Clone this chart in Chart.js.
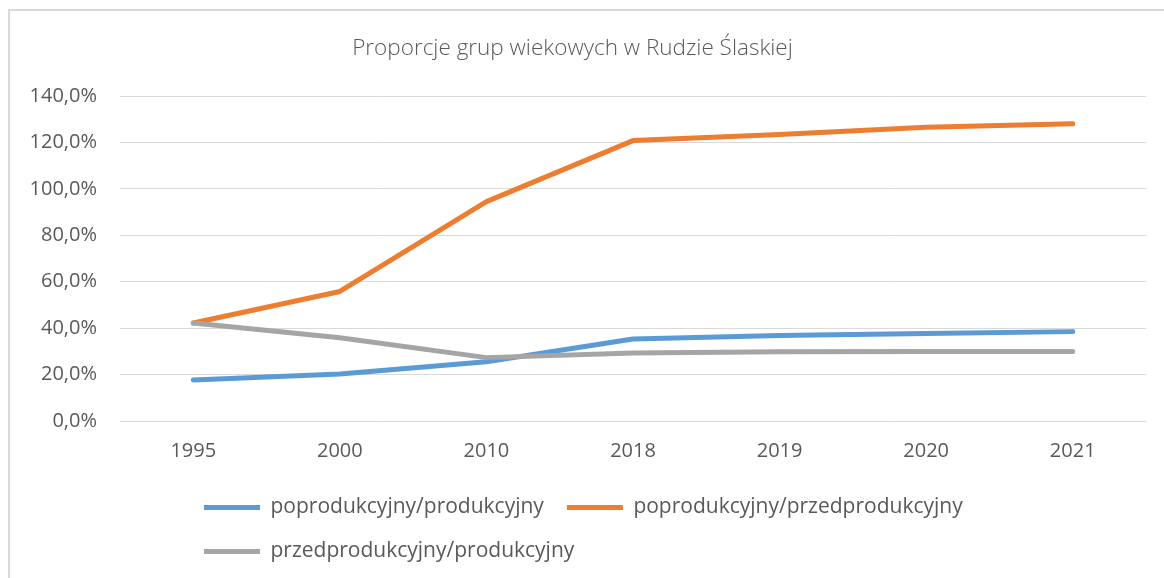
<!DOCTYPE html>
<html lang="pl">
<head>
<meta charset="utf-8">
<title>Proporcje grup wiekowych w Rudzie Ślaskiej</title>
<script src="https://cdn.jsdelivr.net/npm/chart.js@4/dist/chart.umd.min.js"></script>
<style>
    html, body { margin: 0; padding: 0; background: #ffffff; overflow: hidden; }
    #ramka {
        position: absolute; left: 8px; top: 9px;
        width: 1200px; height: 620px;
        border: 2px solid #d9d9d9;
    }
    #wykres { position: absolute; left: 0; top: 0; }
</style>
</head>
<body>
<div id="ramka"></div>
<canvas id="wykres" width="1164" height="592"></canvas>
<script>
// dane (w %)
const lata = ['1995', '2000', '2010', '2018', '2019', '2020', '2021'];
const poprodukcyjnyProdukcyjny = [17.7, 20.2, 25.5, 35.3, 36.8, 37.7, 38.5];
const poprodukcyjnyPrzedprodukcyjny = [42.2, 55.8, 94.5, 120.8, 123.4, 126.5, 128.0];
const przedprodukcyjnyProdukcyjny = [42.2, 35.9, 27.3, 29.3, 29.8, 29.9, 29.9];

const nazwySerii = ['poprodukcyjny/produkcyjny', 'poprodukcyjny/przedprodukcyjny', 'przedprodukcyjny/produkcyjny'];
const kolory = ['#5b9bd5', '#ed7d31', '#a5a5a5'];

const czcionka = '"Open Sans", "Noto Sans", sans-serif';
const szary = '#595959';

function formatProcent(v) {
    return v.toFixed(1).replace('.', ',') + '%';
}

// legenda w Excelu jest wyrównana do lewej (od x ~ 204), tytuł lekko w lewo
const przesunBloki = {
    id: 'przesunBloki',
    afterLayout(chart) {
        const l = chart.legend;
        const w = l.right - l.left;
        l.left = 181;
        l.right = l.left + w;
        l.top -= 7;
        l.bottom -= 7;

        const t = chart.titleBlock;
        t.left -= 5;
        t.right -= 5;
    }
};

function seria(i, dane) {
    return {
        label: nazwySerii[i],
        data: dane,
        borderColor: kolory[i],
        backgroundColor: kolory[i],
        borderWidth: 5,
        borderCapStyle: 'round',
        borderJoinStyle: 'round',
        pointRadius: 0,
        tension: 0,
        order: 3 - i
    };
}

const ctx = document.getElementById('wykres').getContext('2d');
new Chart(ctx, {
    type: 'line',
    data: {
        labels: lata,
        datasets: [
            seria(0, poprodukcyjnyProdukcyjny),
            seria(1, poprodukcyjnyPrzedprodukcyjny),
            seria(2, przedprodukcyjnyProdukcyjny)
        ]
    },
    options: {
        responsive: false,
        animation: false,
        layout: { padding: { left: 9, right: 18, top: 9, bottom: 13 } },
        scales: {
            x: {
                offset: true,
                grid: { display: false, drawTicks: false },
                border: { display: false },
                ticks: {
                    color: szary,
                    padding: 14,
                    font: { family: czcionka, size: 20, lineHeight: 1.6 }
                }
            },
            y: {
                min: 0,
                max: 140,
                afterFit: s => { s.width = 111; },
                grid: { color: '#d9d9d9', lineWidth: 1, drawTicks: false },
                border: { display: false },
                ticks: {
                    stepSize: 20,
                    color: szary,
                    padding: 23,
                    font: { family: czcionka, size: 20 },
                    callback: v => formatProcent(v)
                }
            }
        },
        plugins: {
            title: {
                display: true,
                text: 'Proporcje grup wiekowych w Rudzie Ślaskiej',
                color: szary,
                font: { family: czcionka, size: 22.5, weight: '300' },
                padding: { top: 26, bottom: 34 }
            },
            legend: {
                position: 'bottom',
                align: 'start',
                labels: {
                    usePointStyle: true,
                    pointStyle: 'line',
                    pointStyleWidth: 56,
                    boxHeight: 21,
                    padding: 23,
                    color: szary,
                    font: { family: czcionka, size: 21 },
                    sort: (a, b) => a.datasetIndex - b.datasetIndex
                }
            },
            tooltip: { enabled: false }
        }
    },
    plugins: [przesunBloki]
});
</script>
</body>
</html>
